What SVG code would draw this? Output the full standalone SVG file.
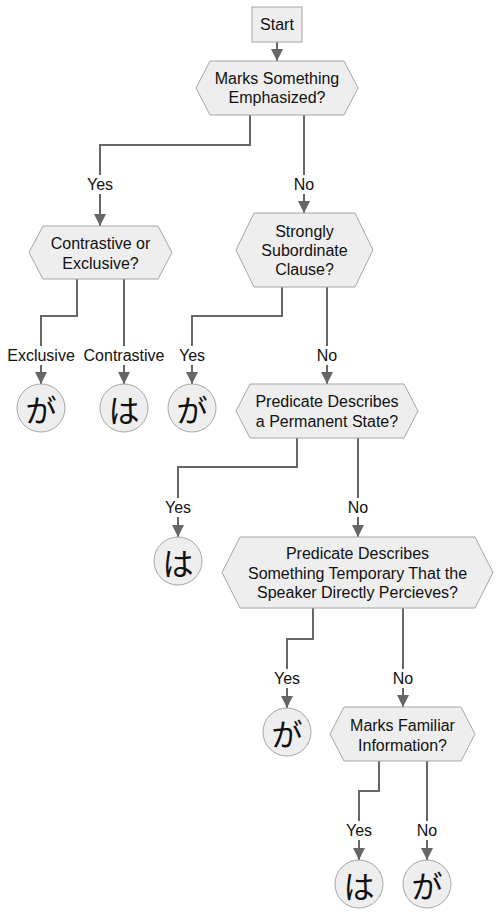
<svg xmlns="http://www.w3.org/2000/svg" width="502" height="916" viewBox="0 0 502 916">
<style>
.node{fill:#eeeeee;stroke:#a6a6a6;stroke-width:1}
.t{font-family:"Liberation Sans",Arial,sans-serif;font-size:16px;fill:#111;text-anchor:middle}
.jp{font-family:"Noto Sans CJK JP",sans-serif;font-size:31px;fill:#111;text-anchor:middle;dominant-baseline:central}
.edge{fill:none;stroke:#666666;stroke-width:2}
.lb{fill:#ffffff}
</style>
<defs>
<marker id="arr" viewBox="0 0 10 10" refX="10" refY="5" markerUnits="userSpaceOnUse" markerWidth="12" markerHeight="12" orient="auto">
<path d="M0,0 L10,5 L0,10 z" fill="#666666"/>
</marker>
</defs>
<g id="connectors">
<path class="edge" d="M277,42 V61" marker-end="url(#arr)"/>
<path class="edge" d="M250,115 V145 H100 V226" marker-end="url(#arr)"/>
<path class="edge" d="M304,115 V213" marker-end="url(#arr)"/>
<path class="edge" d="M77,279 V316 H41 V384" marker-end="url(#arr)"/>
<path class="edge" d="M124,279 V384" marker-end="url(#arr)"/>
<path class="edge" d="M282,287 V316 H192 V384" marker-end="url(#arr)"/>
<path class="edge" d="M327,287 V384" marker-end="url(#arr)"/>
<path class="edge" d="M297,438 V467 H178 V537" marker-end="url(#arr)"/>
<path class="edge" d="M358,438 V537" marker-end="url(#arr)"/>
<path class="edge" d="M313,608 V639 H287 V708" marker-end="url(#arr)"/>
<path class="edge" d="M403,608 V707" marker-end="url(#arr)"/>
<path class="edge" d="M379,761 V791 H359 V860" marker-end="url(#arr)"/>
<path class="edge" d="M427,761 V860" marker-end="url(#arr)"/>
<g id="edge-labels">
<rect class="lb" x="87" y="175" width="26" height="19"/><text class="t" x="100" y="190">Yes</text>
<rect class="lb" x="293" y="175" width="22" height="19"/><text class="t" x="304" y="190">No</text>
<rect class="lb" x="7" y="346" width="68" height="19"/><text class="t" x="41" y="361">Exclusive</text>
<rect class="lb" x="83" y="346" width="82" height="19"/><text class="t" x="124" y="361">Contrastive</text>
<rect class="lb" x="179" y="346" width="26" height="19"/><text class="t" x="192" y="361">Yes</text>
<rect class="lb" x="316" y="346" width="22" height="19"/><text class="t" x="327" y="361">No</text>
<rect class="lb" x="165" y="498" width="26" height="19"/><text class="t" x="178" y="513">Yes</text>
<rect class="lb" x="347" y="498" width="22" height="19"/><text class="t" x="358" y="513">No</text>
<rect class="lb" x="274" y="669" width="26" height="19"/><text class="t" x="287" y="684">Yes</text>
<rect class="lb" x="392" y="669" width="22" height="19"/><text class="t" x="403" y="684">No</text>
<rect class="lb" x="346" y="821" width="26" height="19"/><text class="t" x="359" y="836">Yes</text>
<rect class="lb" x="416" y="821" width="22" height="19"/><text class="t" x="427" y="836">No</text>
</g>
</g>
<g id="start"><rect class="node" x="252" y="7" width="50" height="35"/><text class="t" x="277" y="30">Start</text></g>
<g id="q1"><polygon class="node" points="210,61 344,61 358,88 344,115 210,115 196,88"/><text class="t" x="277" y="84">Marks Something</text><text class="t" x="277" y="103">Emphasized?</text></g>
<g id="q2"><polygon class="node" points="43,226 158,226 172,252.5 158,279 43,279 29,252.5"/><text class="t" x="100.5" y="249">Contrastive or</text><text class="t" x="100.5" y="269">Exclusive?</text></g>
<g id="q3"><polygon class="node" points="254,213 355,213 373,250 355,287 254,287 236,250"/><text class="t" x="304.5" y="237">Strongly</text><text class="t" x="304.5" y="256">Subordinate</text><text class="t" x="304.5" y="275">Clause?</text></g>
<g id="q4"><polygon class="node" points="250,384 404,384 418,411 404,438 250,438 236,411"/><text class="t" x="327" y="407">Predicate Describes</text><text class="t" x="327" y="427">a Permanent State?</text></g>
<g id="q5"><polygon class="node" points="240,537 475,537 493,572.5 475,608 240,608 222,572.5"/><text class="t" x="357.5" y="559">Predicate Describes</text><text class="t" x="357.5" y="579">Something Temporary That the</text><text class="t" x="357.5" y="598">Speaker Directly Percieves?</text></g>
<g id="q6"><polygon class="node" points="344,707 461,707 475,734 461,761 344,761 330,734"/><text class="t" x="402.5" y="731">Marks Familiar</text><text class="t" x="402.5" y="751">Information?</text></g>
<g id="ga1"><circle class="node" cx="41" cy="408" r="24"/><text class="jp" x="41" y="408">が</text></g>
<g id="wa1"><circle class="node" cx="124" cy="408" r="24"/><text class="jp" x="124" y="408">は</text></g>
<g id="ga2"><circle class="node" cx="192" cy="408" r="24"/><text class="jp" x="192" y="408">が</text></g>
<g id="wa2"><circle class="node" cx="178" cy="561" r="24"/><text class="jp" x="178" y="561">は</text></g>
<g id="ga3"><circle class="node" cx="287" cy="732" r="24"/><text class="jp" x="287" y="732">が</text></g>
<g id="wa3"><circle class="node" cx="359" cy="884" r="24"/><text class="jp" x="359" y="884">は</text></g>
<g id="ga4"><circle class="node" cx="427" cy="884" r="24"/><text class="jp" x="427" y="884">が</text></g>
</svg>
